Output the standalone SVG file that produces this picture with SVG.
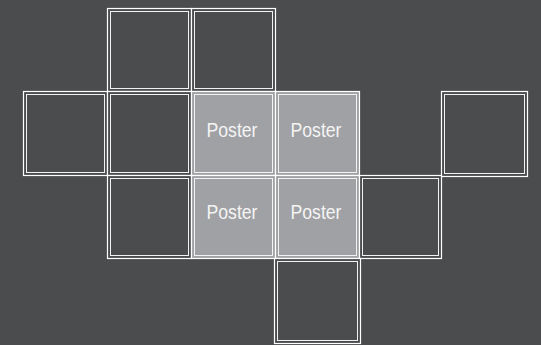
<svg xmlns="http://www.w3.org/2000/svg" width="541" height="345" viewBox="0 0 541 345">
<style>
.o{fill:none;stroke:#ffffff;stroke-width:1.2}
.i{fill:none;stroke:#f2f2f2;stroke-width:1}
.e{fill:#4b4c4e}
.p{fill:#a0a1a4}
.t{font-family:"Liberation Sans Narrow","Liberation Sans",Arial,sans-serif;font-size:21px;fill:#f4f4f4;text-anchor:middle}
</style>
<rect width="541" height="345" fill="#4b4c4e"/>
<g id="c01"><rect class="e" x="107.5" y="8.5" width="84" height="83"/><rect class="o" x="107.5" y="8.5" width="84" height="83"/><rect class="i" x="110.5" y="11.5" width="78" height="77"/></g>
<g id="c02"><rect class="e" x="191.5" y="8.5" width="84" height="83"/><rect class="o" x="191.5" y="8.5" width="84" height="83"/><rect class="i" x="194.5" y="11.5" width="78" height="77"/></g>
<g id="c10"><rect class="e" x="23.5" y="91.5" width="84" height="84"/><rect class="o" x="23.5" y="91.5" width="84" height="84"/><rect class="i" x="26.5" y="94.5" width="78" height="78"/></g>
<g id="c11"><rect class="e" x="107.5" y="91.5" width="84" height="84"/><rect class="o" x="107.5" y="91.5" width="84" height="84"/><rect class="i" x="110.5" y="94.5" width="78" height="78"/></g>
<g id="p1"><rect class="p" x="191.5" y="91.5" width="84" height="84"/><rect class="o" x="191.5" y="91.5" width="84" height="84"/><rect class="i" x="194.5" y="94.5" width="78" height="78"/><text class="t" x="232" y="137" textLength="51" lengthAdjust="spacingAndGlyphs">Poster</text></g>
<g id="p2"><rect class="p" x="275.5" y="91.5" width="84" height="84"/><rect class="o" x="275.5" y="91.5" width="84" height="84"/><rect class="i" x="278.5" y="94.5" width="78" height="78"/><text class="t" x="316" y="137" textLength="51" lengthAdjust="spacingAndGlyphs">Poster</text></g>
<g id="c15"><rect class="e" x="441.5" y="91.5" width="86" height="85"/><rect class="o" x="441.5" y="91.5" width="86" height="85"/><rect class="i" x="444.5" y="94.5" width="80" height="79"/></g>
<g id="c21"><rect class="e" x="107.5" y="175.5" width="84" height="83"/><rect class="o" x="107.5" y="175.5" width="84" height="83"/><rect class="i" x="110.5" y="178.5" width="78" height="77"/></g>
<g id="p3"><rect class="p" x="191.5" y="175.5" width="84" height="83"/><rect class="o" x="191.5" y="175.5" width="84" height="83"/><rect class="i" x="194.5" y="178.5" width="78" height="77"/><text class="t" x="232" y="219" textLength="51" lengthAdjust="spacingAndGlyphs">Poster</text></g>
<g id="p4"><rect class="p" x="275.5" y="175.5" width="84" height="83"/><rect class="o" x="275.5" y="175.5" width="84" height="83"/><rect class="i" x="278.5" y="178.5" width="78" height="77"/><text class="t" x="316" y="219" textLength="51" lengthAdjust="spacingAndGlyphs">Poster</text></g>
<g id="c24"><rect class="e" x="359.5" y="175.5" width="82" height="83"/><rect class="o" x="359.5" y="175.5" width="82" height="83"/><rect class="i" x="362.5" y="178.5" width="76" height="77"/></g>
<g id="c33"><rect class="e" x="274.5" y="258.5" width="86" height="85"/><rect class="o" x="274.5" y="258.5" width="86" height="85"/><rect class="i" x="277.5" y="261.5" width="80" height="79"/></g>
<g id="connectors"></g>
</svg>
